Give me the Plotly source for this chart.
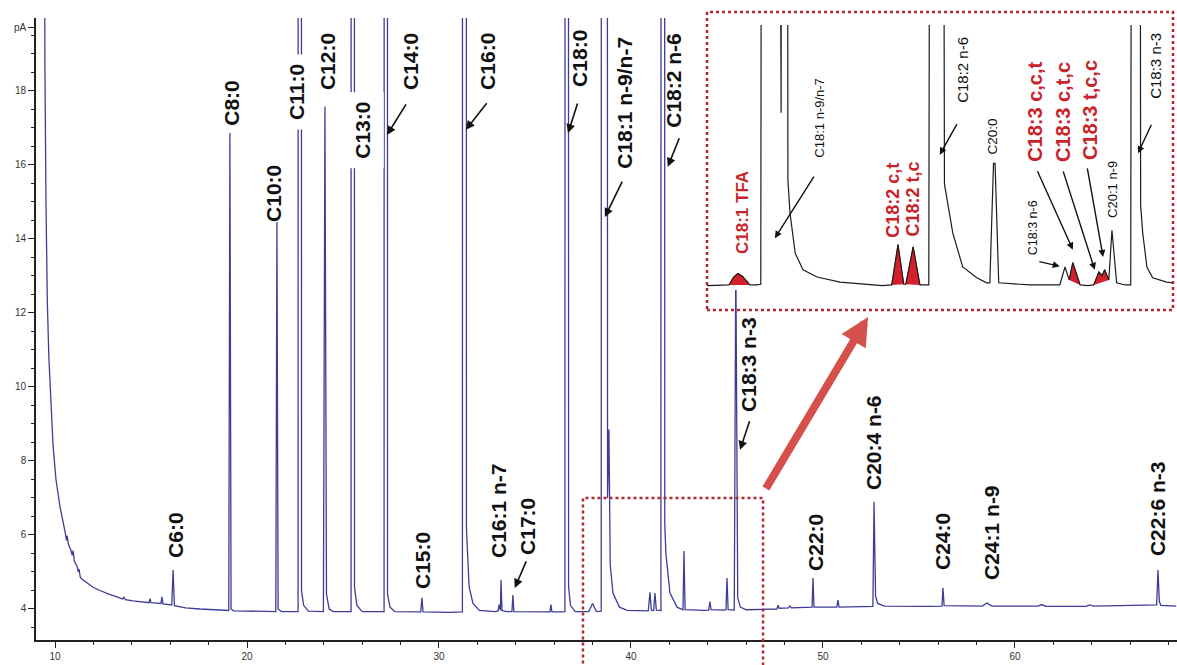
import plotly.graph_objects as go

# ---------------------------------------------------------------
# GC-FID chromatogram of fatty acid methyl esters
# retention time in minutes, detector signal in pA
# ---------------------------------------------------------------

# Full run (blue trace). Very large values mark peaks that run off scale.
main_time = [
    9.40, 9.47, 9.53, 9.60, 9.68, 9.74, 9.84, 9.90, 10.05, 10.26, 10.52, 10.60, 10.63, 10.70,
    10.82, 10.90, 10.94, 11.00, 11.15, 11.22, 11.25, 11.32, 11.41, 11.67, 12.00, 12.34, 12.80,
    13.23, 13.52, 13.59, 13.66, 14.06, 14.60, 14.90, 14.95, 15.00, 15.30, 15.52, 15.57, 15.62,
    16.08, 16.15, 16.22, 16.80, 17.55, 18.20, 18.96,
    19.05, 19.11, 19.17, 19.30, 20.50,
    21.50, 21.56, 21.62, 21.80,
    22.66, 22.74, 22.84, 22.95, 23.20,
    23.98, 24.06, 24.14, 24.28, 24.50,
    25.42, 25.50, 25.60, 25.72, 26.00,
    27.14, 27.22, 27.32, 27.45, 27.70, 28.50,
    29.05, 29.11, 29.17, 30.50,
    31.22, 31.31, 31.43, 31.48, 31.57, 31.77, 32.10, 32.90,
    33.08, 33.13, 33.17, 33.20, 33.23, 33.28, 33.50,
    33.80, 33.85, 33.90, 35.70, 35.78, 35.83, 35.88, 36.40,
    36.56, 36.64, 36.75, 36.85, 37.10, 37.80, 38.00, 38.20,
    38.45, 38.56, 38.78, 38.85, 38.92, 39.06, 39.40, 39.80,
    40.90, 40.99, 41.06, 41.18, 41.25, 41.32,
    41.56, 41.64, 41.76, 41.82, 42.03, 42.40, 42.65,
    42.71, 42.76, 42.82, 43.80, 44.05, 44.11, 44.17, 44.80, 44.95, 45.00, 45.06,
    45.38, 45.46, 45.56, 45.70, 46.00, 46.60,
    47.60, 47.66, 47.72, 48.20, 48.28, 48.36,
    49.43, 49.48, 49.53, 50.72, 50.78, 50.84, 51.50,
    52.60, 52.66, 52.74, 52.85, 53.20, 55.50,
    56.20, 56.25, 56.31, 58.30, 58.54, 58.80,
    61.20, 61.40, 61.60, 63.70, 63.90, 64.10, 67.00,
    67.38, 67.45, 67.52, 67.60, 68.40,
]
main_signal = [
    120.0, 19.0, 15.0, 12.3, 10.8, 10.2, 9.3, 8.4, 7.5, 6.76, 6.1, 5.85, 5.98, 5.75,
    5.6, 5.45, 5.58, 5.3, 5.15, 5.0, 5.08, 4.85, 4.8, 4.7, 4.58, 4.5, 4.4,
    4.33, 4.27, 4.32, 4.25, 4.22, 4.18, 4.17, 4.28, 4.17, 4.16, 4.15, 4.33, 4.14,
    4.11, 5.05, 4.09, 4.03, 4.0, 3.98, 3.97,
    3.96, 16.86, 4.0, 3.95, 3.93,
    3.93, 14.46, 4.0, 3.93,
    3.93, 400.0, 4.5, 4.1, 3.94,
    3.93, 17.57, 4.4, 4.0, 3.93,
    3.93, 400.0, 4.6, 4.1, 3.93,
    3.93, 400.0, 4.4, 4.05, 3.93, 3.92,
    3.92, 4.3, 3.92, 3.91,
    3.92, 400.0, 6.2, 5.6, 4.6, 4.15, 3.96, 3.93,
    3.95, 4.12, 4.0, 3.96, 4.78, 3.96, 3.93,
    3.93, 4.38, 3.93, 3.92, 3.92, 4.12, 3.92, 3.92,
    3.93, 400.0, 4.6, 4.1, 3.93, 3.93, 4.15, 3.93,
    3.94, 400.0, 7.0, 8.85, 5.2, 4.43, 4.05, 3.96,
    3.95, 4.45, 3.97, 3.96, 4.43, 3.97,
    3.96, 400.0, 6.3, 5.5, 4.43, 4.05, 3.98,
    3.98, 5.57, 3.98, 3.96, 3.97, 4.2, 3.98, 3.97, 3.98, 4.84, 3.98,
    3.97, 13.5, 4.3, 4.05, 3.98, 3.99,
    4.0, 4.1, 4.02, 4.03, 4.08, 4.03,
    4.05, 4.84, 4.05, 4.05, 4.24, 4.05, 4.06,
    4.07, 6.9, 4.35, 4.15, 4.08, 4.07,
    4.08, 4.57, 4.09, 4.08, 4.16, 4.08,
    4.08, 4.12, 4.07, 4.07, 4.11, 4.08, 4.1,
    4.11, 5.05, 4.2, 4.1, 4.08,
]

# Expanded 37.4-46.4 min window (black trace), cis / other peaks
inset_time = [
    37.44, 37.82,
    38.40, 38.47, 38.57, 38.86, 38.92, 38.99, 39.03, 39.13, 39.28, 39.55, 39.99, 40.51, 40.80,
    41.69, 41.83, 41.99, 42.15, 42.34, 42.61, 42.80,
    42.86, 42.93, 42.96, 43.03, 43.30, 43.63, 44.00,
    44.20, 44.30, 44.37,
    44.74,
    45.20, 45.29, 45.45,
    45.56, 45.66, 45.75, 45.79, 45.87, 45.98, 46.25, 46.37,
]
inset_signal = [
    3.89, 3.90,
    3.90, 3.91, 60.0, 6.29, 60.0, 5.36, 4.90, 4.34, 4.11, 4.01, 3.94, 3.91, 3.89,
    3.90, 60.0, 5.30, 4.62, 4.15, 4.00, 3.93,
    3.93, 5.59, 5.59, 3.93, 3.92, 3.90, 3.90,
    3.90, 4.15, 3.97,
    3.89,
    4.66, 3.93, 3.90,
    3.90, 60.0, 5.00, 4.62, 4.15, 4.00, 3.94, 3.93,
]

# Trans isomers (shaded red in the expanded window)
trans_peaks = [
    ("C18:1 TFA", [37.86, 37.95, 38.03, 38.12, 38.26], [3.90, 4.01, 4.06, 4.02, 3.90]),
    ("C18:2 c,t", [40.98, 41.10, 41.21], [3.90, 4.46, 3.91]),
    ("C18:2 t,c", [41.25, 41.39, 41.52], [3.91, 4.43, 3.90]),
    ("C18:3 c,c,t", [44.38, 44.45, 44.59], [3.97, 4.21, 3.90]),
    ("C18:3 c,t,c / t,c,c", [44.85, 44.95, 45.01, 45.06, 45.14], [3.90, 4.08, 4.03, 4.11, 3.97]),
]

# Axis ticks
x_ticks = [10, 20, 30, 40, 50, 60]
y_ticks = [4, 6, 8, 10, 12, 14, 16, 18, 19.7]
y_tick_text = ["4", "6", "8", "10", "12", "14", "16", "18", "pA"]

# Peak labels on the full run: (text, time, signal) of the label centre
main_labels = [
    ("C6:0", 16.30, 6.00), ("C8:0", 19.22, 17.68), ("C10:0", 21.35, 15.24),
    ("C11:0", 22.55, 17.97), ("C12:0", 24.17, 18.78), ("C13:0", 26.04, 16.95),
    ("C14:0", 28.49, 18.78), ("C15:0", 29.11, 5.32), ("C16:0", 32.55, 18.81),
    ("C16:1 n-7", 33.13, 6.65), ("C17:0", 34.64, 6.22), ("C18:0", 37.34, 18.89),
    ("C18:1 n-9/n-7", 39.69, 17.68), ("C18:2 n-6", 42.24, 18.30),
    ("C18:3 n-3", 46.09, 10.62), ("C22:0", 49.58, 5.81), ("C20:4 n-6", 52.60, 8.51),
    ("C24:0", 56.20, 5.81), ("C24:1 n-9", 58.75, 6.08), ("C22:6 n-3", 67.40, 6.70),
]
# labels drawn on a white patch over the peak line
masked_labels = {"C11:0", "C13:0"}

# Arrows on the full run: (head time, head signal, tail dx px, tail dy px)
main_arrows = [
    (27.29, 16.81, 20, -32), (31.40, 16.95, 22, -28), (36.72, 16.86, 10, -31),
    (38.64, 14.59, 18, -37), (41.92, 15.95, 12, -30), (33.95, 4.57, 12, -28),
    (45.68, 8.30, 10, -30),
]

# Labels in the expanded window: (text, time, signal, colour, size, bold)
inset_labels = [
    ("C18:1 TFA", 38.13, 4.90, "#c8232b", 17, True),
    ("C18:2 c,t", 41.00, 5.08, "#c8232b", 18, True),
    ("C18:2 t,c", 41.39, 5.09, "#c8232b", 18, True),
    ("C18:3 c,c,t", 43.72, 6.30, "#c8232b", 20, True),
    ("C18:3 c,t,c", 44.26, 6.30, "#c8232b", 20, True),
    ("C18:3 t,c,c", 44.78, 6.33, "#c8232b", 20, True),
    ("C18:1 n-9/n-7", 39.60, 6.22, "#111111", 13, False),
    ("C18:2 n-6", 42.33, 6.89, "#111111", 15, False),
    ("C20:0", 42.92, 5.96, "#111111", 13.5, False),
    ("C18:3 n-6", 43.69, 4.69, "#111111", 12.5, False),
    ("C20:1 n-9", 45.22, 5.22, "#111111", 13, False),
    ("C18:3 n-3", 46.02, 6.94, "#111111", 15, False),
]
inset_arrows = [
    (38.74, 4.55, 40, -63), (41.90, 5.71, 18, -32), (44.20, 4.16, -22, -5),
    (44.45, 4.39, -36, -80), (44.87, 4.11, -32, -100), (45.03, 4.29, -16, -90),
    (45.70, 5.73, 14, -30),
]

LABEL_FONT = "Liberation Sans, Arial, sans-serif"

fig = go.Figure()

# full run
fig.add_trace(go.Scatter(
    x=main_time, y=main_signal, mode="lines",
    line=dict(color="#3d3d99", width=1.3), xaxis="x", yaxis="y",
    showlegend=False, hoverinfo="skip",
))

# trans peaks, filled
for name, t, s in trans_peaks:
    fig.add_trace(go.Scatter(
        x=t, y=s, mode="lines", fill="toself", fillcolor="#d3202a",
        line=dict(color="#d3202a", width=1), xaxis="x2", yaxis="y2",
        showlegend=False, name=name, hoverinfo="skip",
    ))

# expanded window trace (all points in time order)
merged = sorted(
    list(zip(inset_time, inset_signal))
    + [pt for _, t, s in trans_peaks for pt in zip(t, s)]
)
fig.add_trace(go.Scatter(
    x=[p[0] for p in merged], y=[p[1] for p in merged], mode="lines",
    line=dict(color="#1c1c1c", width=1.2), xaxis="x2", yaxis="y2",
    showlegend=False, hoverinfo="skip",
))

annotations = []
for text, x, y in main_labels:
    annotations.append(dict(
        x=x, y=y, xref="x", yref="y", text=text, showarrow=False, textangle=-90,
        xanchor="center", yanchor="middle",
        font=dict(family=LABEL_FONT, size=21, color="#111111", weight="bold"),
        bgcolor="white" if text in masked_labels else None,
        borderpad=9 if text in masked_labels else 1,
    ))
for hx, hy, ax, ay in main_arrows:
    annotations.append(dict(
        x=hx, y=hy, xref="x", yref="y", text="", showarrow=True,
        ax=ax, ay=ay, arrowhead=2, arrowsize=1.1, arrowwidth=1.6, arrowcolor="#111111",
    ))
for text, x, y, color, size, bold in inset_labels:
    annotations.append(dict(
        x=x, y=y, xref="x2", yref="y2", text=text, showarrow=False, textangle=-90,
        xanchor="center", yanchor="middle",
        font=dict(family=LABEL_FONT, size=size, color=color,
                  weight="bold" if bold else "normal"),
    ))
for hx, hy, ax, ay in inset_arrows:
    annotations.append(dict(
        x=hx, y=hy, xref="x2", yref="y2", text="", showarrow=True,
        ax=ax, ay=ay, arrowhead=2, arrowsize=1.0, arrowwidth=1.4, arrowcolor="#111111",
    ))
# thick red pointer from the zoom window to the expanded plot
annotations.append(dict(
    x=0.7292, y=0.5193, xref="paper", yref="paper", text="", showarrow=True,
    ax=-103, ay=173, arrowhead=2, arrowsize=0.7, arrowwidth=8, arrowcolor="#d5504a",
))

shapes = [
    # zoom window on the full run
    dict(type="rect", xref="x", yref="paper", x0=37.5, x1=46.88, y0=-0.06, y1=0.2283,
         line=dict(color="#b3262e", width=2.5, dash="dot"), layer="above"),
    # frame of the expanded plot
    dict(type="rect", xref="paper", yref="paper", x0=0.5881, x1=0.9965, y0=0.5305, y1=1.0096,
         line=dict(color="#b3262e", width=2.5, dash="dot"), layer="above"),
]

axis_font = dict(family="Liberation Sans, Arial, sans-serif", size=10, color="#333333")

fig.update_layout(
    width=1177, height=665,
    margin=dict(l=36, r=0, t=18, b=25),
    paper_bgcolor="white", plot_bgcolor="white",
    showlegend=False,
    xaxis=dict(
        range=[9.01, 68.44], domain=[0, 1], tickvals=x_ticks,
        ticks="outside", ticklen=6, tickwidth=1.3, tickcolor="#222222",
        showline=True, linecolor="#222222", linewidth=1.6, showgrid=False, zeroline=False,
        tickfont=axis_font,
        minor=dict(dtick=2, tick0=0, ticks="outside", ticklen=3, tickcolor="#222222", showgrid=False),
    ),
    yaxis=dict(
        range=[3.162, 19.97], domain=[0, 1], tickvals=y_ticks, ticktext=y_tick_text,
        ticks="outside", ticklen=6, tickwidth=1.3, tickcolor="#222222",
        showline=True, linecolor="#222222", linewidth=1.6, showgrid=False, zeroline=False,
        tickfont=axis_font,
        minor=dict(dtick=0.5, tick0=0, ticks="outside", ticklen=3, tickcolor="#222222", showgrid=False),
    ),
    xaxis2=dict(
        range=[37.44, 46.37], domain=[0.5881, 0.9965], anchor="y2", visible=False,
    ),
    yaxis2=dict(
        range=[3.83, 7.51], domain=[0.5627, 0.9887], anchor="x2", visible=False,
    ),
    annotations=annotations,
    shapes=shapes,
)

fig.write_html("out.html")
